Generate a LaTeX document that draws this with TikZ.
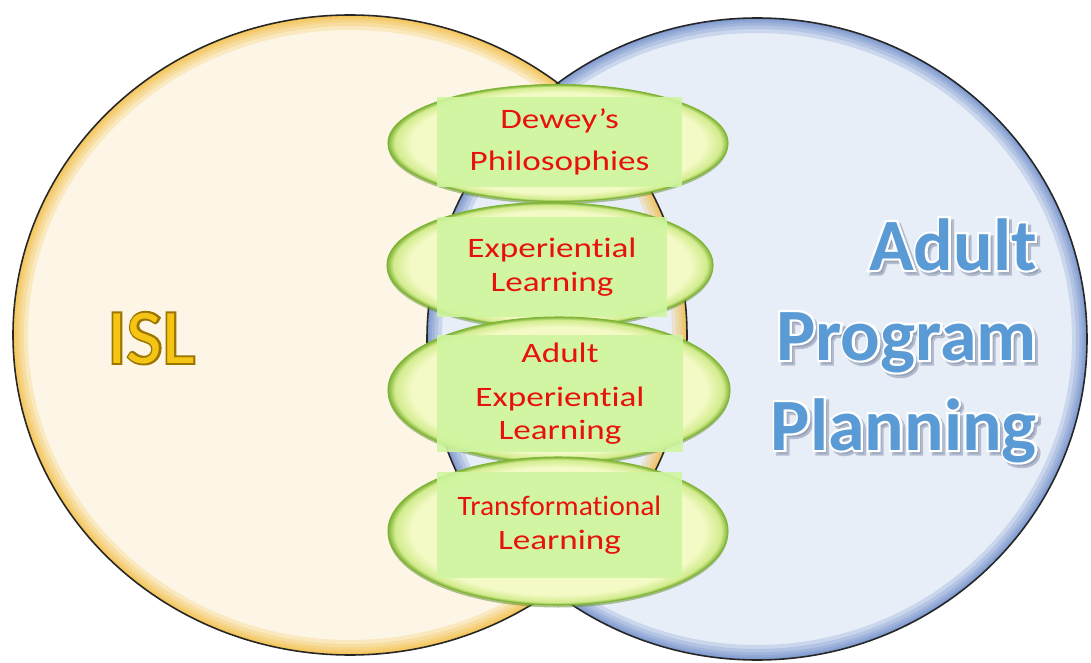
\documentclass[tikz,border=0pt]{standalone}
\usepackage{fontspec}
\setmainfont{Carlito}[Ligatures=NoCommon]
\newfontfamily\redfont{Carlito}[FakeStretch=1.25, Ligatures=NoCommon]
\newfontfamily\transfont{Carlito}[FakeStretch=1.05, Ligatures=NoCommon]
\newfontfamily\appedge{Carlito}[BoldFeatures={FakeBold=6}]
\newfontfamily\isledgefont{Carlito}[FakeBold=5]
\usetikzlibrary{shapes.geometric,shadows}

\definecolor{islfill}{HTML}{FDF6E6}
\definecolor{islglow}{HTML}{F3B935}
\definecolor{islgold}{HTML}{F5C516}
\definecolor{isledge}{HTML}{9C7400}
\definecolor{appfill}{HTML}{E8EEF8}
\definecolor{appglow}{HTML}{6384C4}
\definecolor{appblue}{HTML}{5B9BD5}
\definecolor{appshadow}{HTML}{7D8CA6}
\definecolor{pillin}{HTML}{F4FAC6}
\definecolor{pillmid}{HTML}{D2EC8E}
\definecolor{pilledge}{HTML}{80B436}
\definecolor{pillshadow}{HTML}{5E8A28}
\definecolor{boxgreen}{HTML}{CFF5A0}
\definecolor{redtext}{HTML}{E8120C}

\pgfdeclareradialshading{pillshade}{\pgfpointorigin}{color(0bp)=(pillin); color(21.5bp)=(pillin); color(24bp)=(pillmid); color(25bp)=(pilledge); color(50bp)=(pilledge)}

\tikzset{
    pill/.style={ellipse, shade, shading=pillshade, draw=pilledge, line width=0.6pt,
        drop shadow={shadow xshift=0pt, shadow yshift=-0.05cm, fill=pillshadow, opacity=0.5}},
    tbox/.style={fill=boxgreen, fill opacity=0.9, text opacity=1, text=redtext, align=center,
        inner sep=0pt, font=\redfont\fontsize{16}{19}\selectfont},
    apptext/.style={font=\bfseries\fontsize{42}{50}\selectfont, anchor=base east, inner sep=0pt},
    isltext/.style={font=\fontsize{44}{52}\selectfont, anchor=base west, inner sep=0pt},
}

\begin{document}
\begin{tikzpicture}
    \fill[white] (0,0) rectangle (21.82,13.24);
    \useasboundingbox (0,0) rectangle (21.82,13.24);
    \coordinate (lc) at (7.0,6.54);
    \coordinate (rc) at (15.14,6.46);
    \fill[islfill] (lc) ellipse [x radius=6.74cm, y radius=6.4cm];
    \fill[appfill] (rc) ellipse [x radius=6.6cm, y radius=6.42cm];
    \begin{scope}
        \clip (lc) ellipse [x radius=6.74cm, y radius=6.4cm];
        \foreach \w in {0.6cm,0.44cm,0.3cm,0.2cm,0.12cm,0.06cm}
            \draw[islglow, line width=\w, opacity=0.22] (lc) ellipse [x radius=6.74cm, y radius=6.4cm];
    \end{scope}
    \begin{scope}
        \clip (rc) ellipse [x radius=6.6cm, y radius=6.42cm];
        \foreach \w in {0.6cm,0.44cm,0.3cm,0.2cm,0.12cm,0.06cm}
            \draw[appglow, line width=\w, opacity=0.22] (rc) ellipse [x radius=6.6cm, y radius=6.42cm];
    \end{scope}
    \draw[black!85, line width=0.9pt] (lc) ellipse [x radius=6.74cm, y radius=6.4cm];
    \draw[black!85, line width=0.9pt] (rc) ellipse [x radius=6.6cm, y radius=6.42cm];

    \node[pill, minimum width=6.8cm, minimum height=2.34cm] (dewey) at (11.16,10.38) {};
    \node[tbox, minimum width=4.9cm, minimum height=1.8cm] (dewey-txt) at (11.19,10.40) {Dewey’s\\[5pt]Philosophies};
    \node[pill, minimum width=6.52cm, minimum height=2.5cm] (exp) at (11.0,7.94) {};
    \node[tbox, minimum width=4.6cm, minimum height=2cm] (exp-txt) at (11.04,7.9) {Experiential\\Learning};
    \node[pill, minimum width=6.84cm, minimum height=2.92cm] (adexp) at (11.18,5.44) {};
    \node[tbox, minimum width=4.92cm, minimum height=2.34cm] (adexp-txt) at (11.2,5.37) {Adult\\[6pt]Experiential\\Learning};
    \node[pill, minimum width=6.8cm, minimum height=2.96cm] (trans) at (11.16,2.62) {};
    \node[tbox, minimum width=4.9cm, minimum height=2.12cm] (trans-txt) at (11.19,2.74) {{\transfont Transformational}\\Learning};

    \node[isltext, text=isledge, font=\isledgefont\fontsize{44}{52}\selectfont] (isl-edge) at (2.14,5.98) {ISL};
    \node[isltext, text=islgold] (isl) at (2.14,5.98) {ISL};

    \foreach \t/\yb in {Adult/7.84, Program/6.04, Planning/4.24} {
        \node[apptext, text=appshadow, opacity=0.5, font=\appedge\bfseries\fontsize{42}{50}\selectfont] (\t-sh) at (20.80,\yb-0.07) {\t};
        \node[apptext, text=white, font=\appedge\bfseries\fontsize{42}{50}\selectfont] (\t-edge) at (20.74,\yb) {\t};
        \node[apptext, text=appblue] (\t) at (20.74,\yb) {\t};
    }
\end{tikzpicture}
\end{document}
